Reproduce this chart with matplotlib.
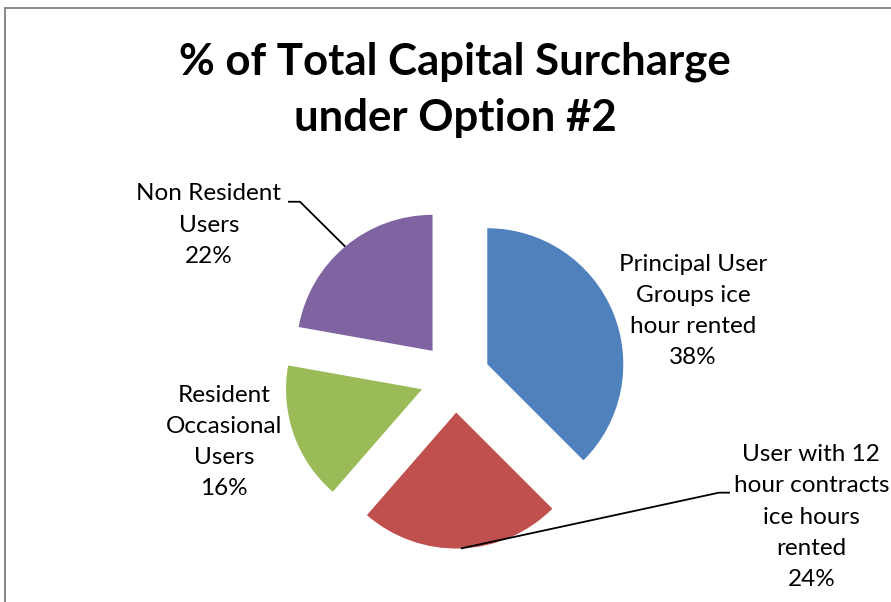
import matplotlib
matplotlib.use("Agg")
import matplotlib.pyplot as plt
from matplotlib.patches import Rectangle
import numpy as np

# chart data
categories = ["Principal User\nGroups ice\nhour rented",
              "User with 12\nhour contracts\nice hours\nrented",
              "Resident\nOccasional\nUsers",
              "Non Resident\nUsers"]
shares = [37.5, 23.9, 16.4, 22.2]
colors = ["#4F81BD", "#C0504D", "#9BBB59", "#8064A2"]
title = "% of Total Capital Surcharge\nunder Option #2"

plt.rcParams["font.family"] = ["Lato", "DejaVu Sans"]

W, H = 891, 602
PX = 136.0             # pixels per data unit (pie radius)
CX, CY = 455.0, 377.6  # pie centre in pixels

fig = plt.figure(figsize=(W / 100, H / 100), dpi=100)
ax = fig.add_axes([0, 0, 1, 1])

total = sum(shares)
labels = [f"{c}\n{v / total * 100:.0f}%" for c, v in zip(categories, shares)]

wedges, _ = ax.pie(shares, colors=colors, startangle=90, counterclock=False,
                   explode=[0.257] * len(shares), radius=1.0,
                   wedgeprops=dict(linewidth=0), center=(0, 0), frame=True)
ax.set_xlim(-CX / PX, (W - CX) / PX)
ax.set_ylim(-(H - CY) / PX, CY / PX)
ax.axis("off")

# label positions (data units)
label_pos = [(1.75, 0.49), (2.62, -1.025), (-1.699, -0.474), (-1.809, 1.122)]
for lab, (x, y) in zip(labels, label_pos):
    ax.text(x, y, lab, ha="center", va="center", fontsize=17.5,
            linespacing=1.6, color="#000000")

# leader lines for red and purple slices
def arc_mid(w):
    ang = np.deg2rad((w.theta1 + w.theta2) / 2)
    return w.center[0] + w.r * np.cos(ang), w.center[1] + w.r * np.sin(ang)

leaders = {1: (1.941, 2.022, -0.846), 3: (-1.140, -1.228, 1.293)}
for i, (ex, tx, ty) in leaders.items():
    mx, my = arc_mid(wedges[i])
    ax.plot([mx, ex, tx], [my, ty, ty], color="black", lw=1.3,
            solid_capstyle="butt")

ax.text(0, 2.115, title, ha="center", va="center", fontsize=31.5,
        fontweight="bold", linespacing=1.5)

# chart border
fig.patches.append(Rectangle((5 / W, -0.01), 1.02, 1 - 8 / H + 0.01,
                             transform=fig.transFigure, fill=False,
                             edgecolor="#878787", lw=1.4))

fig.savefig("out.png", dpi=100)
